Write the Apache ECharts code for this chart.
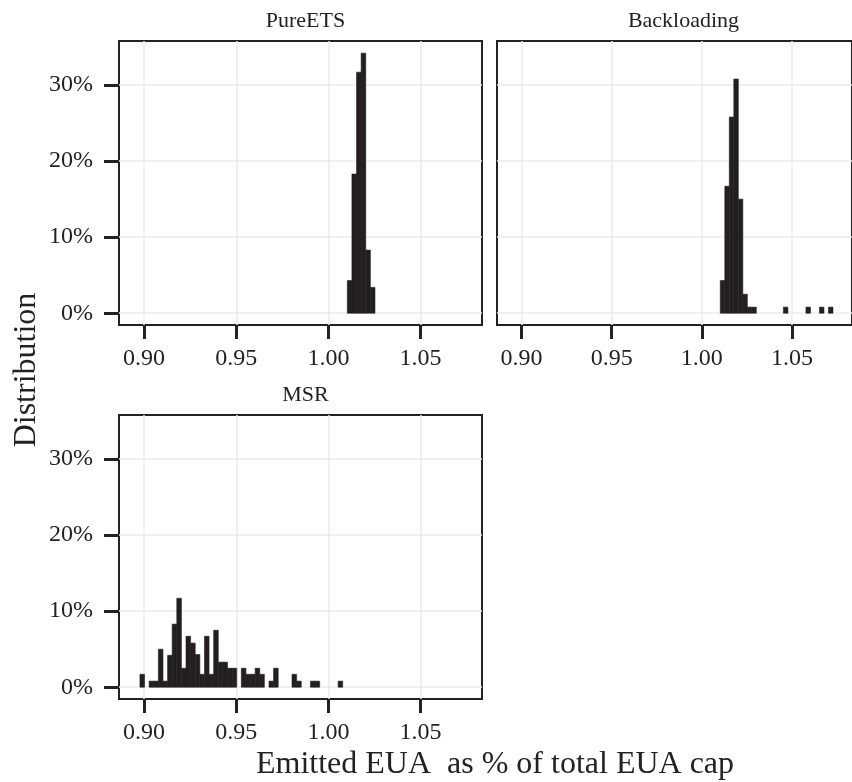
<!DOCTYPE html>
<html>
<head>
<meta charset="utf-8">
<script src="https://cdn.jsdelivr.net/npm/echarts@6/dist/echarts.min.js"></script>
<style>
html, body { margin: 0; padding: 0; background: #fff; }
#main { width: 852px; height: 782px; }
</style>
</head>
<body>
<div id="main"></div>
<script>
var binWidth = 0.0025;
var xTicks = [0.90, 0.95, 1.00, 1.05];
var yTicks = [0, 10, 20, 30];
var panelNames = ['PureETS', 'Backloading', 'MSR'];

// bin centres (EUA ratio) and share of runs (%)
var pureX = [1.0115, 1.0140, 1.0165, 1.0190, 1.0215, 1.0240];
var pureY = [4.3, 18.3, 31.7, 34.2, 8.3, 3.4];

var backX = [1.0115, 1.0140, 1.0165, 1.0190, 1.0215, 1.0240, 1.0265, 1.0290, 1.0465, 1.0590, 1.0665, 1.0715];
var backY = [4.3, 16.7, 25.8, 30.8, 15.0, 2.5, 0.8, 0.8, 0.8, 0.8, 0.8, 0.8];

var msrX = [0.8990, 0.9040, 0.9065, 0.9090, 0.9115, 0.9140, 0.9165, 0.9190, 0.9215, 0.9240,
            0.9265, 0.9290, 0.9315, 0.9340, 0.9365, 0.9390, 0.9415, 0.9440, 0.9465, 0.9490,
            0.9540, 0.9565, 0.9590, 0.9615, 0.9640, 0.9690, 0.9715, 0.9815, 0.9840, 0.9915,
            0.9940, 1.0065];
var msrY = [1.7, 0.8, 0.8, 5.0, 0.8, 4.2, 8.3, 11.7, 2.5, 6.7,
            5.8, 4.3, 1.7, 6.7, 1.7, 7.5, 3.3, 3.3, 2.5, 2.5,
            2.5, 1.7, 1.7, 2.5, 1.7, 0.8, 2.5, 1.7, 0.8, 0.8,
            0.8, 0.8];

var font = 'Liberation Serif';
var ink = '#231f20';

function pairs(xs, ys) {
    var out = [];
    for (var i = 0; i < xs.length; i++) out.push([xs[i], ys[i]]);
    return out;
}

function renderBar(params, api) {
    var x = api.value(0), y = api.value(1);
    var p0 = api.coord([x - binWidth / 2, 0]);
    var p1 = api.coord([x + binWidth / 2, y]);
    return {
        type: 'rect',
        shape: { x: p0[0], y: p1[1], width: p1[0] - p0[0], height: p0[1] - p1[1] },
        style: { fill: ink, stroke: ink, lineWidth: 0.6 }
    };
}

var grids = [
    { left: 119, top: 41, width: 363, height: 284 },
    { left: 497, top: 41, width: 363, height: 284 },
    { left: 119, top: 415, width: 363, height: 284 }
];

var xAxes = [], yAxes = [], series = [], titles = [];
var data = [pairs(pureX, pureY), pairs(backX, backY), pairs(msrX, msrY)];

grids.forEach(function (g, i) {
    g.show = true;
    g.borderColor = '#222';
    g.borderWidth = 2;
    g.backgroundColor = '#fff';
    xAxes.push({
        gridIndex: i, type: 'value', min: 0.8864, max: 1.0833, position: 'bottom',
        axisLine: { show: false, onZero: false },
        axisTick: { show: true, customValues: xTicks, length: 14, lineStyle: { color: '#222', width: 3 } },
        axisLabel: { customValues: xTicks, fontFamily: font, fontSize: 24, color: '#222', margin: 22,
            formatter: function (v) { return v.toFixed(2); } },
        splitLine: { show: true, lineStyle: { color: '#ebebeb', width: 1.5 } }
    });
    yAxes.push({
        gridIndex: i, type: 'value', min: -1.55, max: 35.8, position: 'left',
        axisLine: { show: false, onZero: false },
        axisTick: { show: i !== 1, customValues: yTicks, length: 15, lineStyle: { color: '#222', width: 3 } },
        axisLabel: { show: i !== 1, customValues: yTicks, fontFamily: font, fontSize: 24, color: '#222', margin: 26,
            formatter: function (v) { return v + '%'; } },
        splitLine: { show: true, lineStyle: { color: '#ebebeb', width: 1.5 } }
    });
    series.push({
        type: 'custom', xAxisIndex: i, yAxisIndex: i,
        renderItem: renderBar, data: data[i], clip: true
    });
    titles.push({
        text: panelNames[i], left: g.left + g.width / 2, top: g.top - 36, textAlign: 'center',
        textStyle: { fontFamily: font, fontSize: 22, fontWeight: 'normal', color: '#222' }
    });
});

titles.push({
    text: 'Emitted EUA  as % of total EUA cap', left: 490, top: 744, textAlign: 'center',
    textStyle: { fontFamily: font, fontSize: 32, fontWeight: 'normal', color: '#222' }
});

var myChart = echarts.init(document.getElementById('main'));
myChart.setOption({
    animation: false,
    backgroundColor: '#fff',
    title: titles,
    grid: grids,
    xAxis: xAxes,
    yAxis: yAxes,
    series: series,
    graphic: [{
        type: 'text', x: 11, y: 370, rotation: Math.PI / 2,
        style: { text: 'Distribution', font: '32px "Liberation Serif"', fill: '#222',
            textAlign: 'center', textVerticalAlign: 'top' }
    }]
});
</script>
</body>
</html>
